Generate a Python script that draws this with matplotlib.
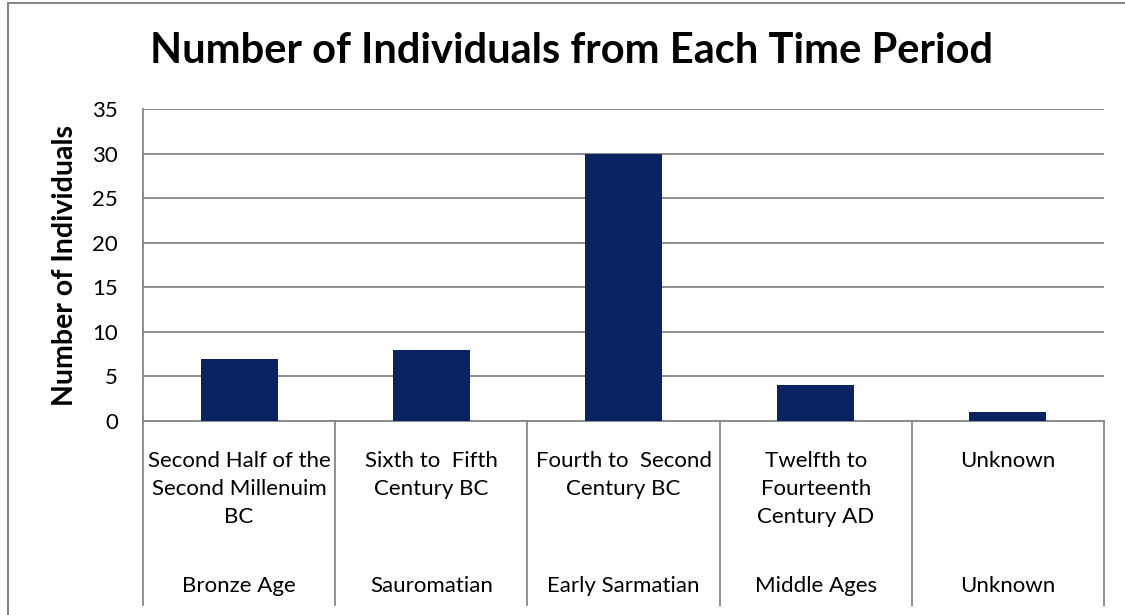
import matplotlib.pyplot as plt
from matplotlib.lines import Line2D
from matplotlib.patches import Rectangle
from matplotlib.transforms import blended_transform_factory
import numpy as np

# counts per period
periods = ['Second Half of the\nSecond Millenuim\nBC', 'Sixth to  Fifth\nCentury BC',
           'Fourth to  Second\nCentury BC', 'Twelfth to\nFourteenth\nCentury AD', 'Unknown']
groups = ['Bronze Age', 'Sauromatian', 'Early Sarmatian', 'Middle Ages', 'Unknown']
counts = [7, 8, 30, 4, 1]
yticks = [0, 5, 10, 15, 20, 25, 30, 35]

plt.rcParams['font.family'] = ['Lato', 'DejaVu Sans']
grey = '#868686'
navy = '#0B2360'
W, H = 1125, 615

fig = plt.figure(figsize=(W / 100, H / 100), dpi=100)
ax = fig.add_axes([143 / W, 1 - 421 / H, (1104 - 143) / W, (421 - 109) / H])

x = np.arange(len(counts))
ax.bar(x, counts, width=0.4, color=navy, zorder=3)
ax.set_xlim(-0.5, len(counts) - 0.5)
ax.set_ylim(0, 35)
ax.set_yticks(yticks)
ax.tick_params(axis='y', length=0, pad=18, labelsize=16)
ax.set_xticks([])
ax.yaxis.grid(True, color=grey, linewidth=1.3, zorder=0)
for s in ['top', 'right']:
    ax.spines[s].set_visible(False)
for s in ['left', 'bottom']:
    ax.spines[s].set_color(grey)
    ax.spines[s].set_linewidth(1.3)

ax.set_ylabel('Number of Individuals', fontsize=20.5, fontweight='bold', labelpad=10)
fig.text(571 / W, 1 - 51 / H, 'Number of Individuals from Each Time Period',
         ha='center', va='center', fontsize=30, fontweight='bold')

# two-level category axis underneath the bars
tr = blended_transform_factory(ax.transData, fig.transFigure)
for xs in np.arange(-0.5, len(counts), 1.0):
    fig.add_artist(Line2D([xs, xs], [1 - 421 / H, 1 - 605 / H], transform=tr,
                          color=grey, linewidth=1.3))
for i in range(len(counts)):
    fig.text(x[i], 1 - 451 / H, periods[i], transform=tr, ha='center', va='top',
             fontsize=16, linespacing=1.5)
    fig.text(x[i], 1 - 586 / H, groups[i], transform=tr, ha='center', va='center',
             fontsize=16)

# chart frame
fig.add_artist(Rectangle((8 / W, -0.1), 1.2, 1 - 3 / H + 0.1, transform=fig.transFigure,
                         fill=False, edgecolor=grey, linewidth=1.5))

fig.savefig('out.png', dpi=100)
